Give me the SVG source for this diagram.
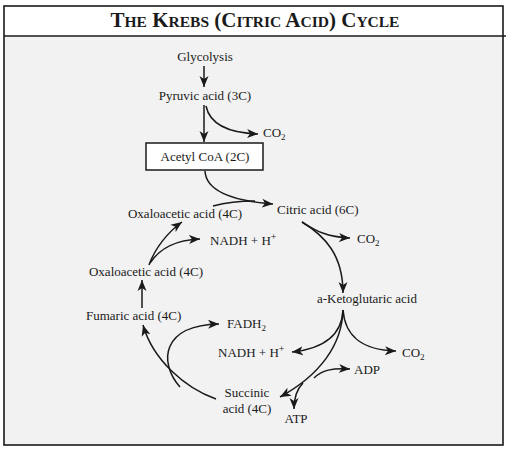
<svg xmlns="http://www.w3.org/2000/svg" width="511" height="452" viewBox="0 0 511 452">
<style>
text{font-family:"Liberation Serif","Times New Roman",serif;font-size:13px;fill:#1a1a1a}
.c{text-anchor:middle}
.e{fill:none;stroke:#1a1a1a;stroke-width:1.5;marker-end:url(#ah)}
.title{font-weight:bold;font-size:21px;text-anchor:middle}
.sm{font-size:15.5px}
</style>
<defs>
<marker id="ah" markerUnits="userSpaceOnUse" markerWidth="12" markerHeight="10" viewBox="0 0 12 10" refX="11" refY="5" orient="auto">
<path d="M0,0.5 L11,5 L0,9.5 L3,5 z" fill="#1a1a1a"/>
</marker>
</defs>
<rect x="4" y="6" width="499" height="439" fill="#f2f2f2"/>
<rect x="4" y="6" width="499" height="30" fill="#ffffff"/>
<rect x="4" y="6" width="499" height="439" fill="none" stroke="#1a1a1a" stroke-width="1.6"/>
<line x1="4" y1="36" x2="506" y2="36" stroke="#1a1a1a" stroke-width="1.6"/>
<text class="title" x="255" y="27">T<tspan class="sm">HE</tspan> K<tspan class="sm">REBS</tspan> (C<tspan class="sm">ITRIC</tspan> A<tspan class="sm">CID</tspan>) C<tspan class="sm">YCLE</tspan></text>

<g id="connectors">
<path class="e" d="M204,66 L204,87"/>
<path class="e" d="M204,105 L204,142"/>
<path class="e" d="M206,106 C210,125 230,133 258,134"/>
<path class="e" d="M205,171 C206,192 235,201 273,204"/>
<path fill="none" stroke="#1a1a1a" stroke-width="1.5" d="M213,206 C228,202 240,201 255,201"/>
<path class="e" d="M302,222 C315,230 325,237 350,238"/>
<path class="e" d="M302,222 C325,236 343,255 343,293"/>
<path class="e" d="M343,310 C342,330 330,348 292,352"/>
<path class="e" d="M343,310 C345,335 360,350 396,351"/>
<path class="e" d="M343,310 C342,345 320,375 280,397"/>
<path class="e" d="M314,378 C322,370 332,368 350,369"/>
<path class="e" d="M303,383 C296,390 294,398 294,409"/>
<path class="e" d="M216,399 C185,388 153,360 143,325"/>
<path class="e" d="M180,387 C158,362 162,325 219,324"/>
<path class="e" d="M142,308 L142,280"/>
<path class="e" d="M149,265 C155,248 168,232 182,222"/>
<path class="e" d="M150,263 C160,248 175,240 200,239"/>
</g>

<g id="glycolysis"><text class="c" x="205" y="61">Glycolysis</text></g>
<g id="pyruvic"><text class="c" x="205" y="100">Pyruvic acid (3C)</text></g>
<g id="co2-1"><text x="263" y="137">CO<tspan font-size="9" dy="3">2</tspan></text></g>
<g id="acetyl"><rect x="146" y="143" width="117" height="27" fill="#ffffff" stroke="#1a1a1a" stroke-width="1.5"/><text class="c" x="205" y="161">Acetyl CoA (2C)</text></g>
<g id="citric"><text x="277" y="214">Citric acid (6C)</text></g>
<g id="oxalo-upper"><text class="c" x="185" y="218">Oxaloacetic acid (4C)</text></g>
<g id="nadh-1"><text x="210" y="245">NADH + H<tspan font-size="10" dy="-5">+</tspan></text></g>
<g id="co2-2"><text x="357" y="243">CO<tspan font-size="9" dy="3">2</tspan></text></g>
<g id="oxalo-lower"><text class="c" x="146" y="276">Oxaloacetic acid (4C)</text></g>
<g id="ketoglutaric"><text class="c" x="367" y="303">a-Ketoglutaric acid</text></g>
<g id="fumaric"><text x="86" y="320">Fumaric acid (4C)</text></g>
<g id="fadh2"><text x="227" y="328">FADH<tspan font-size="9" dy="3">2</tspan></text></g>
<g id="nadh-2"><text x="218" y="357">NADH + H<tspan font-size="10" dy="-5">+</tspan></text></g>
<g id="co2-3"><text x="402" y="357">CO<tspan font-size="9" dy="3">2</tspan></text></g>
<g id="adp"><text x="354" y="374">ADP</text></g>
<g id="succinic"><text class="c" x="247" y="397">Succinic</text><text class="c" x="247" y="413">acid (4C)</text></g>
<g id="atp"><text class="c" x="296" y="423">ATP</text></g>
</svg>
